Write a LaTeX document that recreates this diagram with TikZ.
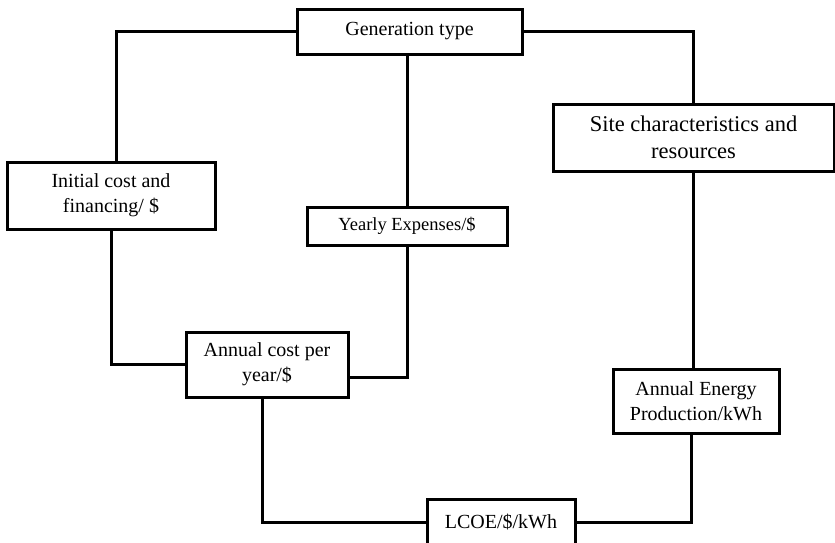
\documentclass[tikz,border=0pt]{standalone}
\usepackage{fontspec}
\setmainfont{Liberation Serif}
\begin{document}
\begin{tikzpicture}[x=1pt,y=-1pt,
  box/.style={draw=black, line width=3pt, rectangle, inner sep=0pt, outer sep=0pt,
    align=center, font=\fontsize{20}{25}\selectfont},
  link/.style={draw=black, line width=3pt, line cap=rect}]
\useasboundingbox (0,0) rectangle (835,542);
\node[box, minimum width=225pt, minimum height=45pt] (gen) at (409.5,31.5) {Generation type};
\node[box, minimum width=208pt, minimum height=67pt] (init) at (111,195.5) {Initial cost and\\financing/ \$};
\node[box, minimum width=281pt, minimum height=67pt, font=\fontsize{22.5}{27}\selectfont] (site) at (693.5,137.5) {Site characteristics and\\resources};
\node[box, minimum width=200pt, minimum height=38pt, font=\fontsize{18.5}{23}\selectfont] (yearly) at (407,226) {Yearly Expenses/\$};
\node[box, minimum width=162pt, minimum height=65pt] (ac) at (267,364.5) {Annual cost per\\year/\$};
\node[box, minimum width=166pt, minimum height=64pt] (ae) at (696,401) {Annual Energy\\Production/kWh};
\node[box, minimum width=148pt, minimum height=47pt] (lcoe) at (501,522.5) {LCOE/\$/kWh};

\draw[link] (gen.west) -| ([xshift=5pt]init.north);
\draw[link] (yearly.north) -- (yearly.north |- gen.south);
\draw[link] (gen.east) -| (site.north);
\draw[link] (init.south) |- (ac.west);
\draw[link] (yearly.south) |- ([yshift=-12.5pt]ac.east);
\draw[link] ([xshift=-5pt]ac.south) |- (lcoe.west);
\draw[link] (site.south) -- (site.south |- ae.north);
\draw[link] ([xshift=-5pt]ae.south) |- (lcoe.east);
\end{tikzpicture}
\end{document}
